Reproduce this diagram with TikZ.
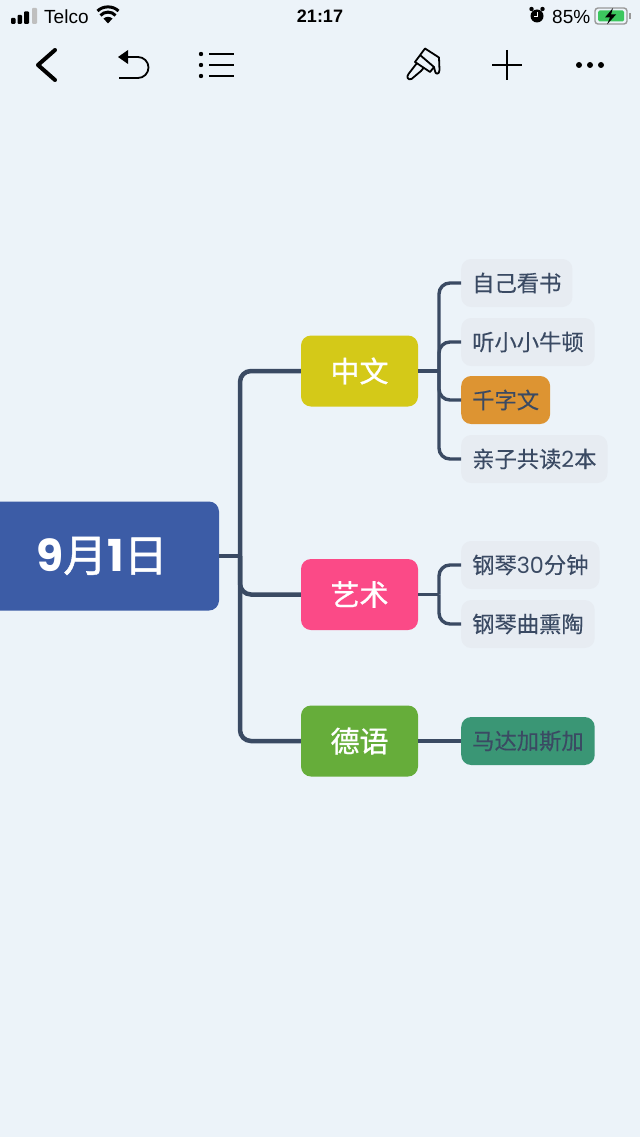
\documentclass[tikz,border=0pt]{standalone}
\usepackage{fontspec}
\usepackage{xcolor}
\setmainfont{Liberation Sans}
\newfontfamily\cjk[FakeBold=0.2]{Noto Sans CJK SC}
\newfontfamily\cjkmid[FakeBold=1]{Noto Sans CJK SC}
\newfontfamily\digitfont{Poppins}
\usetikzlibrary{arrows}
\definecolor{paper}{HTML}{ECF3F9}
\definecolor{ink}{HTML}{3A4A63}
\definecolor{rootblue}{HTML}{3C5CA6}
\definecolor{mustard}{HTML}{D4C918}
\definecolor{rose}{HTML}{FB4A87}
\definecolor{leafgreen}{HTML}{66AD3A}
\definecolor{leafgrey}{HTML}{E7ECF2}
\definecolor{amber}{HTML}{DD9432}
\definecolor{teal}{HTML}{3A9675}
\definecolor{charge}{HTML}{3CC75E}
\tikzset{
    root/.style={fill=rootblue, text=white, rounded corners=10pt, minimum width=238pt, minimum height=109pt, inner sep=0pt, font=\cjkmid\fontsize{44}{44}\selectfont},
    branch/.style={text=white, rounded corners=10pt, minimum width=117pt, minimum height=71pt, inner sep=0pt, font=\cjkmid\fontsize{29}{29}\selectfont},
    leaf/.style={fill=leafgrey, text=ink, anchor=west, rounded corners=10pt, minimum height=48pt, inner xsep=11pt, inner ysep=0pt, font=\cjk\fontsize{22.3}{22.3}\selectfont},
    trunk/.style={draw=ink, line width=4.5pt, rounded corners=11pt},
    twig/.style={draw=ink, line width=3.4pt, rounded corners=11pt},
    icon/.style={draw=black, line width=1.8pt},
    status/.style={text=black, inner sep=0pt, font=\fontsize{19}{19}\selectfont}
}
\begin{document}
\begin{tikzpicture}[x=1pt, y=-1pt]
    \useasboundingbox (0,0) rectangle (640,1137);
    \fill[paper] (0,0) rectangle (640,1137);

    \coordinate (hub) at (240,556);
    \coordinate (hubzw) at (439,371);
    \coordinate (hubys) at (439,594.5);

    \node[root] (day) at (100,556) {\hspace{4pt}{\digitfont\bfseries 9}月{\digitfont\bfseries 1}日};
    \node[branch, fill=mustard] (zw) at (359.5,371) {中文};
    \node[branch, fill=rose] (ys) at (359.5,594.5) {艺术};
    \node[branch, fill=leafgreen] (dy) at (359.5,741) {德语};

    \node[leaf] (book) at (461,283) {自己看书};
    \node[leaf] (newton) at (461,342) {听小小牛顿};
    \node[leaf, fill=amber] (qzw) at (461,400) {千字文};
    \node[leaf] (read) at (461,459) {亲子共读{\digitfont 2}本};
    \node[leaf] (piano) at (461,565) {钢琴{\digitfont 30}分钟};
    \node[leaf] (tune) at (461,624) {钢琴曲熏陶};
    \node[leaf, fill=teal] (mada) at (461,741) {马达加斯加};

    \draw[trunk] (day.east) -- (hub);
    \draw[trunk] (hub) |- (zw.west);
    \draw[trunk] (hub) |- (ys.west);
    \draw[trunk] (hub) |- (dy.west);

    \draw[twig] (zw.east) -- (hubzw);
    \draw[twig] (hubzw) |- (book.west);
    \draw[twig] (hubzw) |- (newton.west);
    \draw[twig] (hubzw) |- (qzw.west);
    \draw[twig] (hubzw) |- (read.west);
    \draw[twig] (ys.east) -- (hubys);
    \draw[twig] (hubys) |- (piano.west);
    \draw[twig] (hubys) |- (tune.west);
    \draw[twig] (dy.east) -- (mada.west);

    \fill[black, rounded corners=1pt] (11,18) rectangle (15.5,24);
    \fill[black, rounded corners=1pt] (17.5,15) rectangle (22,24);
    \fill[black, rounded corners=1pt] (24,11.5) rectangle (29,24);
    \fill[black!25, rounded corners=1pt] (32,8) rectangle (37,24);
    \node[status, anchor=west] (telco) at (44,16.5) {Telco};
    \fill[black] (108,23.5) -- (103.5,18.5) arc (-130:-50:7) -- cycle;
    \draw[black, line width=3pt] (100.5,15.5) .. controls (104,11) and (112,11) .. (115.5,15.5);
    \draw[black, line width=3pt] (97.5,11) .. controls (103,5.5) and (113,5.5) .. (118.5,11);
    \node[status, font=\fontsize{18}{18}\selectfont\bfseries] (clock) at (320,16.5) {21:17};
    \fill[black] (537,16) circle (6.5);
    \fill[black] (531.5,9) circle (2.2);
    \fill[black] (542.5,9) circle (2.2);
    \draw[white, line width=1pt] (537,12) -- (537,16.5) -- (533.5,16.5);
    \node[status, anchor=west] (level) at (552,16.5) {85\%};
    \draw[black!40, line width=1.4pt, rounded corners=3pt] (595,8) rectangle (627,24);
    \fill[charge, rounded corners=1.5pt] (598,10.5) rectangle (624,21.5);
    \fill[black] (613,8) -- (605,17.5) -- (610,17.5) -- (607,24.5) -- (616,14.5) -- (611,14.5) -- cycle;
    \fill[black!40] (629,13) rectangle (630.5,19);

    \draw[black, line width=4pt, line cap=round, line join=round] (55,50) -- (38,65) -- (55,80);
    \fill[black] (118,57) -- (128,50) -- (128,64) -- cycle;
    \draw[icon] (126,57) -- (138,57) arc (-90:90:10.5) -- (119,78);
    \foreach \y in {54,65,76} {
        \fill[black] (201,\y) circle (2.2);
        \draw[icon] (209,\y) -- (233.5,\y);
    }
    \draw[icon, line join=round] (425,48.5) -- (439,57.5) -- (439.5,70) .. controls (439.5,75) and (435,74.5) .. (435,71) -- (434,67) -- (430,72) -- (415,62) -- cycle;
    \draw[icon, line join=round] (420,55) -- (434,67);
    \draw[icon, line join=round] (417,63) -- (408.5,74) .. controls (406,77) and (408,80.5) .. (411.5,79) -- (421,71) -- (424,67.5);
    \draw[icon] (492,65) -- (522,65);
    \draw[icon] (507,50) -- (507,80);
    \foreach \x in {579,590,601} {
        \fill[black] (\x,65) circle (3);
    }
\end{tikzpicture}
\end{document}
